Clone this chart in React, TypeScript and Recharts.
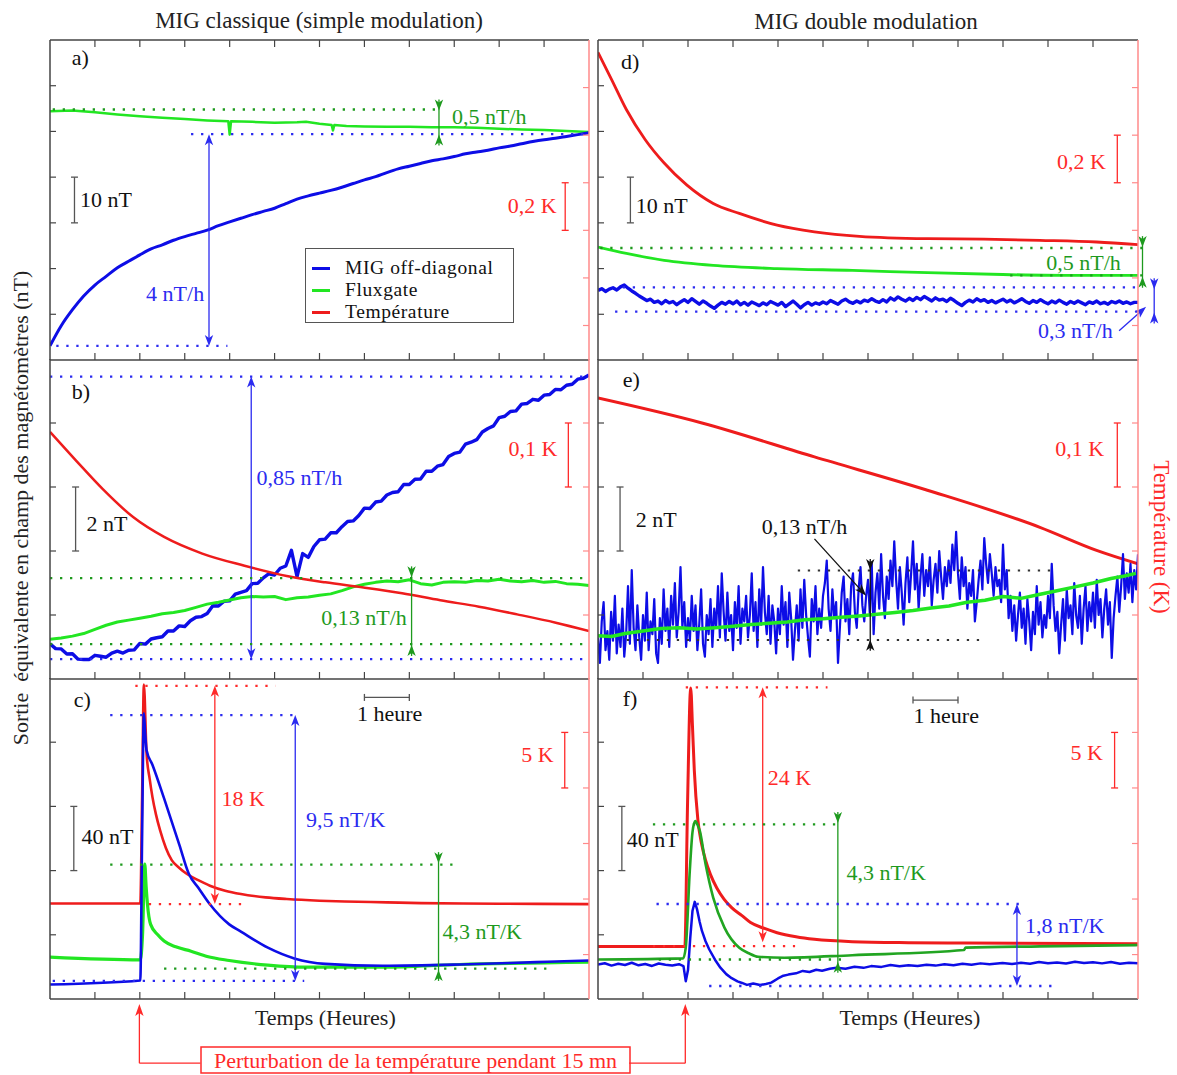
import React from 'react';
import { LineChart, Line, XAxis, YAxis, ReferenceLine, ReferenceDot, Legend } from 'recharts';

const SERIF = '"Liberation Serif", "Times New Roman", "DejaVu Serif", serif';
const BLUE = '#0d0de6';
const LIME = '#22e622';
const RED = '#ee1c1c';
const DKGREEN = '#22a522';
const ABLUE = '#2b2bf0';
const AGREEN = '#1e9a1e';
const ARED = '#ff2a2a';
const GRAY = '#444';
const BARGRAY = '#555';
const PINK = '#ff8a8a';
const INK = '#111';

// ---------- categories / ticks ----------
const seriesNames = ['MIG off-diagonal', 'Fluxgate', 'Température'];
const seriesColors = [BLUE, LIME, RED];
const hourTicks = [1, 2, 3, 4, 5, 6, 7, 8, 9, 10, 11];

// ---------- panel a (MIG classique, dérive) ----------
const aBlueStep = 0.25;
const aBlueV = [3.1, 7.5, 11.0, 14.0, 16.4, 18.3, 20.2, 21.6, 23.0, 24.3, 25.2, 26.2, 27.0, 27.7, 28.4, 29.4, 30.2,
  31.0, 31.8, 32.5, 33.2, 34.2, 35.2, 35.9, 36.5, 37.1, 37.8, 38.6, 39.4, 40.1, 41.0, 41.8, 42.4, 43.0, 43.6,
  44.0, 44.5, 45.1, 45.5, 45.9, 46.4, 46.8, 47.3, 47.8, 48.2, 48.5, 48.9, 49.3, 49.7];
const aGreenH = [0, 0.5, 1, 1.5, 2, 2.5, 3, 3.5, 3.97, 4.0, 4.03, 4.5, 5, 5.5, 5.7, 6.0, 6.27, 6.3, 6.33, 6.6, 7, 7.5, 8, 8.5, 9, 9.5, 10, 10.5, 11, 11.5, 12];
const aGreenV = [54.4, 54.6, 54.2, 53.7, 53.3, 53.0, 52.7, 52.4, 52.2, 49.3, 52.2, 52.1, 51.9, 52.0, 52.1, 51.7, 51.4, 50.2, 51.4, 51.2, 51.1, 51.0, 51.0, 50.9, 50.9, 50.8, 50.6, 50.4, 50.3, 50.1, 49.9];

// ---------- panel b ----------
const bBlueStep = 0.125;
const bBlueV = [1.10, 0.95, 0.94, 0.78, 0.79, 0.62, 0.61, 0.61, 0.74, 0.71, 0.68, 0.81, 0.87, 0.81, 0.90, 0.91,
  1.11, 1.09, 1.25, 1.29, 1.32, 1.50, 1.50, 1.66, 1.64, 1.82, 1.93, 1.95, 2.05, 2.29, 2.28, 2.43,
  2.44, 2.65, 2.71, 2.76, 2.98, 2.99, 3.16, 3.29, 3.25, 3.46, 3.53, 4.02, 3.20, 3.92, 3.80, 4.14,
  4.35, 4.37, 4.57, 4.57, 4.76, 4.92, 4.94, 5.11, 5.34, 5.33, 5.53, 5.56, 5.75, 5.83, 5.85, 6.08,
  6.08, 6.24, 6.25, 6.49, 6.49, 6.65, 6.70, 6.95, 7.05, 7.09, 7.34, 7.40, 7.48, 7.72, 7.83, 7.91,
  8.17, 8.21, 8.36, 8.38, 8.59, 8.61, 8.74, 8.71, 8.87, 8.89, 9.05, 9.04, 9.18, 9.21, 9.37, 9.40, 9.50];
const bGreenStep = 0.25;
const bGreenV = [1.24, 1.28, 1.34, 1.42, 1.55, 1.68, 1.78, 1.84, 1.90, 1.96, 2.04, 2.08, 2.14, 2.24, 2.34, 2.40,
  2.47, 2.54, 2.58, 2.56, 2.58, 2.48, 2.54, 2.56, 2.62, 2.66, 2.76, 2.88, 2.96, 3.02, 3.06, 3.04,
  3.10, 2.98, 2.94, 3.02, 3.04, 3.02, 3.08, 3.06, 3.12, 3.06, 3.04, 3.08, 3.02, 3.05, 2.98, 2.96, 2.92];
const bRedH = [0, 0.57, 1.17, 1.85, 2.54, 3.39, 4.33, 5.27, 6.13, 6.98, 7.84, 8.69, 9.55, 10.4, 11.26, 12];
const bRedT = [0.386, 0.342, 0.297, 0.253, 0.222, 0.196, 0.177, 0.161, 0.151, 0.143, 0.134, 0.123, 0.113, 0.101, 0.088, 0.075];

// ---------- panel c ----------
const cRedH = [0, 2.01, 2.05, 2.09, 2.15, 2.22, 2.28, 2.36, 2.45, 2.58, 2.71, 2.88, 3.05, 3.3, 3.56, 3.9, 4.25, 4.8, 5.27, 6.0, 6.56, 7.5, 8.26, 10, 12];
const cRedT = [9.6, 9.6, 19.0, 29.3, 23.1, 20.8, 19.2, 17.6, 16.2, 14.6, 13.5, 12.8, 12.25, 11.7, 11.2, 10.75, 10.45, 10.15, 10.0, 9.85, 9.78, 9.7, 9.63, 9.58, 9.54];
const cBlueH = [0, 2.01, 2.05, 2.09, 2.12, 2.15, 2.28, 2.54, 2.88, 3.09, 3.31, 3.56, 3.99, 4.25, 4.85, 5.44, 6.13, 7.41, 9.12, 10.83, 12];
const cBlueV = [9.0, 11.5, 100, 178, 165, 155, 146, 125, 96, 78, 69, 59, 46.5, 42, 32, 25.3, 21.9, 20.7, 21.5, 23.0, 24.0];
const cGreenH = [0, 2.01, 2.06, 2.11, 2.14, 2.17, 2.24, 2.4, 2.54, 2.8, 3.14, 3.5, 3.99, 4.85, 5.7, 7.41, 9.12, 12];
const cGreenV = [26.1, 24.4, 40, 84, 70, 59, 46.5, 40, 36.1, 32.5, 29.8, 26.5, 24.0, 21.1, 19.8, 19.8, 21.5, 23.0];

// ---------- panel d (double modulation, dérive) ----------
const dRedH = [0, 0.3, 0.63, 1.05, 1.47, 1.97, 2.56, 3.14, 3.98, 4.81, 5.81, 7.32, 8.57, 9.82, 11.08, 12];
const dRedT = [1.348, 1.235, 1.108, 0.981, 0.883, 0.791, 0.713, 0.671, 0.622, 0.594, 0.575, 0.565, 0.563, 0.558, 0.551, 0.540];
const dGreenH = [0, 0.63, 1.47, 2.56, 3.98, 5.65, 7.32, 8.99, 10.66, 12];
const dGreenV = [24.7, 23.3, 21.8, 20.7, 20.0, 19.6, 19.1, 18.7, 18.5, 18.5];
const dBlueStep = 1 / 12;
const dBlueV = [
  15.2, 15.6, 15.0, 15.5, 15.8, 15.3, 16.0, 16.4, 15.7, 15.1, 14.6, 14.0,
  13.5, 13.0, 13.3, 12.6, 12.9, 12.3, 13.0, 12.5, 12.8, 12.1, 12.7, 13.2,
  12.6, 13.4, 12.8, 12.2, 12.9, 12.4, 11.8, 11.3, 12.0, 12.6, 12.2, 12.8,
  12.3, 12.9, 12.1, 12.6, 12.0, 12.7, 12.3, 11.9, 12.5, 12.1, 12.8, 12.4,
  12.0, 12.6, 11.7, 12.3, 12.9, 12.2, 11.4, 12.1, 12.6, 12.0, 12.5, 12.2,
  12.7, 12.3, 13.0, 12.6, 12.2, 12.9, 13.3, 12.7, 12.4, 12.9, 12.5, 13.1,
  12.8, 13.4, 12.9, 12.6, 13.2, 12.7, 13.6, 13.1, 13.8, 13.3, 12.9, 13.5,
  13.0, 13.7, 13.2, 13.9, 13.4, 12.9, 13.6, 13.1, 13.3, 12.8, 13.5, 13.0,
  12.4, 11.9, 12.6, 13.1, 12.7, 13.4, 12.9, 13.2, 12.6, 13.0, 12.5, 12.9,
  13.3, 12.7, 13.1, 12.5, 12.9, 13.4, 12.8, 12.4, 13.0, 12.6, 13.2, 12.7,
  12.3, 12.9, 12.5, 13.1, 12.6, 12.2, 12.8, 12.4, 12.9, 12.5, 12.1, 12.7,
  12.4, 12.9, 12.3, 12.6, 12.2, 12.8, 12.5, 12.9, 12.4, 12.7, 12.3, 12.6,
  12.6];

// ---------- panel e ----------
const eRedH = [0, 2.31, 4.81, 7.32, 9.82, 11.08, 12];
const eRedT = [0.439, 0.400, 0.347, 0.295, 0.237, 0.201, 0.180];
const eGreenH = [0, 0.3, 0.6, 1.0, 1.4, 1.8, 2.2, 2.6, 3.0, 3.4, 3.8, 4.2, 4.6, 5.0, 5.4, 5.8, 6.2, 6.6, 7.0, 7.4, 7.8, 8.2, 8.6, 9.0, 9.4, 9.8, 10.2, 10.6, 11.0, 11.4, 11.7, 11.95];
const eGreenV = [1.35, 1.33, 1.42, 1.50, 1.58, 1.60, 1.56, 1.60, 1.65, 1.70, 1.74, 1.78, 1.85, 1.88, 1.93, 1.97, 2.02, 2.08, 2.14, 2.22, 2.28, 2.40, 2.46, 2.58, 2.52, 2.64, 2.76, 2.88, 3.00, 3.14, 3.22, 3.30];
const eBlueStep = 1 / 24;
const eBlueV = [
  1.3, 0.5, 1.8, 2.4, 0.9, 1.5, 0.6, 2.1, 1.2, 2.6, 0.8, 1.7, 1.0, 2.2, 0.7, 1.4, 2.9, 1.1, 3.4, 1.6, 0.9, 2.3, 1.3, 0.6,
  2.0, 1.2, 2.7, 0.9, 1.8, 1.4, 2.5, 0.8, 0.5, 1.9, 1.1, 2.8, 1.5, 2.2, 1.0, 2.6, 1.7, 3.0, 1.3, 2.1, 3.5, 1.6, 2.4, 1.0,
  1.9, 1.2, 2.6, 1.5, 2.3, 0.9, 1.7, 2.8, 1.1, 0.7, 2.0, 1.4, 2.5, 1.0, 2.2, 1.6, 2.9, 1.3, 3.3, 2.1, 1.2, 2.7, 1.5, 2.0,
  0.9, 2.4, 1.6, 2.9, 1.1, 2.2, 1.8, 2.6, 1.3, 2.0, 3.3, 1.5, 2.4, 1.0, 2.8, 1.7, 3.5, 2.1, 1.4, 2.6, 1.1, 2.3, 1.8, 0.8,
  2.2, 1.4, 2.9, 1.7, 2.4, 1.0, 2.7, 1.9, 0.6, 1.5, 2.3, 1.2, 2.8, 1.6, 3.1, 2.0, 1.3, 0.7, 2.5, 1.8, 2.9, 1.4, 2.2, 1.6,
  2.6, 3.0, 3.7, 2.2, 1.5, 2.8, 1.9, 2.4, 0.5, 1.6, 2.7, 3.2, 1.8, 2.5, 1.4, 2.9, 3.3, 2.1, 1.6, 2.8, 3.5, 2.3, 1.8, 2.6,
  3.1, 2.0, 3.6, 1.4, 2.7, 3.3, 2.2, 3.9, 2.6, 1.9, 3.2, 2.5, 3.7, 2.9, 4.3, 3.1, 2.2, 3.5, 2.7, 1.7, 3.0, 3.8, 2.4, 3.3,
  4.3, 2.8, 3.6, 2.2, 3.2, 3.9, 2.6, 3.4, 2.9, 3.8, 2.3, 3.1, 3.6, 2.7, 4.0, 3.2, 2.5, 3.5, 2.9, 3.7, 3.0, 4.2, 3.4, 4.6,
  3.3, 2.5, 3.8, 2.9, 3.5, 2.2, 3.0, 2.6, 3.4, 1.8, 2.4, 3.1, 3.7, 2.8, 4.4, 3.6, 3.0, 3.9, 3.3, 2.6, 3.5, 2.9, 3.1, 2.4,
  4.2, 2.8, 3.4, 1.9, 2.6, 1.5, 2.3, 1.2, 2.0, 2.7, 1.6, 2.2, 1.1, 2.5, 1.8, 0.9, 2.1, 1.4, 2.9, 1.7, 2.4, 1.3, 2.0, 1.6,
  2.6, 1.9, 3.6, 2.3, 1.5, 2.1, 0.8, 1.7, 2.5, 1.2, 2.8, 1.9, 2.3, 1.4, 3.0, 2.0, 1.6, 2.6, 1.1, 2.2, 2.9, 1.5, 2.4, 1.8,
  2.7, 1.6, 3.1, 2.0, 2.5, 1.3, 2.2, 2.8, 1.7, 2.4, 0.66, 1.9, 2.6, 3.2, 2.1, 2.9, 3.9, 2.5, 3.3, 2.7, 3.6, 2.4, 3.4, 2.8,
  3.9];

// ---------- panel f ----------
const fRedH = [0, 1.93, 1.99, 2.06, 2.1, 2.14, 2.22, 2.3, 2.39, 2.5, 2.64, 2.8, 2.97, 3.2, 3.39, 3.7, 3.98, 4.4, 4.81, 5.65, 6.9, 8.15, 12];
const fRedT = [5.72, 5.72, 18.6, 29.0, 25.5, 21.6, 17.1, 15.0, 13.5, 12.2, 11.0, 10.0, 9.23, 8.5, 7.88, 7.35, 6.97, 6.6, 6.37, 6.16, 6.07, 6.04, 5.98];
const fGreenH = [0, 1.89, 1.95, 2.04, 2.1, 2.16, 2.22, 2.26, 2.39, 2.56, 2.81, 3.14, 3.35, 3.56, 4.14, 5.65, 8.13, 8.17, 9.82, 12];
const fGreenV = [24.6, 25.3, 32, 80, 104, 110.8, 108, 105, 84.1, 63.2, 44.5, 31.9, 28.5, 26.3, 25.7, 27.3, 30.5, 32.0, 32.8, 33.6];
const fBlueH = [0, 0.15, 0.3, 0.45, 0.6, 0.75, 0.9, 1.05, 1.2, 1.35, 1.5, 1.65, 1.8, 1.9, 1.95, 2.0, 2.05, 2.1, 2.15, 2.2,
  2.26, 2.31, 2.39, 2.47, 2.6, 2.72, 2.85, 2.97, 3.1, 3.2, 3.31, 3.45, 3.6, 3.73, 3.85, 4.0, 4.12, 4.23, 4.4, 4.55,
  4.7, 4.85, 4.98, 5.15, 5.3, 5.5, 5.7, 5.9, 6.07, 6.3, 6.5, 6.7, 6.9, 7.1, 7.3, 7.5, 7.7, 7.9, 8.1, 8.3,
  8.5, 8.7, 8.99, 9.2, 9.4, 9.6, 9.8, 10.0, 10.2, 10.4, 10.6, 10.8, 11.0, 11.2, 11.4, 11.6, 11.8, 12];
const fBlueV = [21.5, 22.3, 20.8, 22.0, 21.2, 22.6, 21.0, 21.8, 20.6, 22.1, 21.4, 20.9, 21.7, 20.5, 11.1, 18, 38, 55, 60.5, 56,
  48, 42.4, 36, 31, 24.5, 19.5, 15.5, 13, 11, 10.0, 8.8, 9.6, 8.7, 9.4, 10.2, 12.8, 14.5, 15.2, 16.0, 17.5,
  16.8, 18.2, 17.6, 18.8, 19.5, 18.9, 20.1, 19.4, 20.5, 20.0, 21.2, 20.4, 21.0, 20.6, 21.4, 20.8, 21.6, 21.0, 22.0, 21.3,
  22.2, 21.6, 22.4, 21.8, 22.6, 21.9, 23.0, 22.3, 22.8, 22.1, 23.2, 22.4, 22.9, 22.2, 23.1, 22.0, 22.6, 22.3];

// ---------- helpers ----------
const fromStep = (step: number, v: number[]) => v.map((y, i) => ({ h: i * step, v: y }));
const fromPairs = (h: number[], v: number[]) => h.map((x, i) => ({ h: x, v: v[i] }));
const EmptyTick = () => <g />;

function headPts(tx: number, ty: number, ux: number, uy: number, L = 11, W = 4.2) {
  const bx = tx - ux * L, by = ty - uy * L;
  const nx = -uy, ny = ux;
  const mx = tx - ux * (L - 3), my = ty - uy * (L - 3);
  return `${tx},${ty} ${bx + nx * W},${by + ny * W} ${mx},${my} ${bx - nx * W},${by - ny * W}`;
}

function renderAnn(a: any, i: number) {
  const ax = a.ax || 'n';
  const c = a.c || INK;
  if (a.k === 'text') {
    return (
      <ReferenceDot key={i} xAxisId="b" yAxisId={ax} x={a.x} y={a.y} r={0} ifOverflow="visible"
        shape={(p: any) => (
          <text x={p.cx} y={p.cy} fill={c} fontFamily={SERIF} fontSize={a.size || 22}
            textAnchor={a.anchor || 'start'} dominantBaseline="central">{a.s}</text>
        )} />
    );
  }
  let seg: any;
  let shape: any;
  if (a.k === 'dots' || a.k === 'hbar') {
    seg = [{ x: a.x1, y: a.y }, { x: a.x2, y: a.y }];
  } else if (a.k === 'leader' || a.k === 'line') {
    seg = [{ x: a.x1, y: a.y1 }, { x: a.x2, y: a.y2 }];
  } else {
    seg = [{ x: a.x, y: a.y1 }, { x: a.x, y: a.y2 }];
  }
  if (a.k === 'dots') {
    shape = (p: any) => (
      <line x1={p.x1} y1={p.y1} x2={p.x2} y2={p.y2} stroke={c} strokeWidth={a.w || 2.3} strokeDasharray="2.3 7.7" />
    );
  } else if (a.k === 'hbar') {
    shape = (p: any) => (
      <g stroke={c} strokeWidth={1.3}>
        <line x1={p.x1} y1={p.y1} x2={p.x2} y2={p.y2} />
        <line x1={p.x1} y1={p.y1 - 3.5} x2={p.x1} y2={p.y1 + 3.5} />
        <line x1={p.x2} y1={p.y2 - 3.5} x2={p.x2} y2={p.y2 + 3.5} />
      </g>
    );
  } else if (a.k === 'bar') {
    shape = (p: any) => (
      <g stroke={c} strokeWidth={1.3}>
        <line x1={p.x1} y1={p.y1} x2={p.x2} y2={p.y2} />
        <line x1={p.x1 - 3.5} y1={p.y1} x2={p.x1 + 3.5} y2={p.y1} />
        <line x1={p.x2 - 3.5} y1={p.y2} x2={p.x2 + 3.5} y2={p.y2} />
      </g>
    );
  } else if (a.k === 'arrow') {
    shape = (p: any) => {
      const x = p.x1;
      const top = Math.min(p.y1, p.y2), bot = Math.max(p.y1, p.y2);
      return (
        <g>
          <line x1={x} y1={top + 6} x2={x} y2={bot - 6} stroke={c} strokeWidth={1.3} />
          <polygon points={headPts(x, top, 0, -1)} fill={c} />
          <polygon points={headPts(x, bot, 0, 1)} fill={c} />
        </g>
      );
    };
  } else if (a.k === 'inward') {
    shape = (p: any) => {
      const x = p.x1;
      const top = Math.min(p.y1, p.y2), bot = Math.max(p.y1, p.y2);
      return (
        <g>
          <line x1={x} y1={top} x2={x} y2={bot} stroke={c} strokeWidth={1.3} />
          <polygon points={headPts(x, top + 11, 0, 1)} fill={c} />
          <polygon points={headPts(x, bot - 11, 0, -1)} fill={c} />
        </g>
      );
    };
  } else if (a.k === 'leader') {
    shape = (p: any) => {
      const dx = p.x2 - p.x1, dy = p.y2 - p.y1;
      const len = Math.hypot(dx, dy) || 1;
      const ux = dx / len, uy = dy / len;
      return (
        <g>
          <line x1={p.x1} y1={p.y1} x2={p.x2 - ux * 6} y2={p.y2 - uy * 6} stroke={c} strokeWidth={1.3} />
          <polygon points={headPts(p.x2, p.y2, ux, uy, 12, 4.2)} fill={c} />
        </g>
      );
    };
  } else {
    shape = (p: any) => <line x1={p.x1} y1={p.y1} x2={p.x2} y2={p.y2} stroke={c} strokeWidth={1.3} />;
  }
  return <ReferenceLine key={i} xAxisId="b" yAxisId={ax} segment={seg} ifOverflow="visible" shape={shape} />;
}

function LegendBox() {
  return (
    <div style={{ width: 209, height: 75, boxSizing: 'border-box', border: '1.5px solid #555', background: '#fff', position: 'relative', fontFamily: SERIF, fontSize: 19.5, color: INK }}>
      {seriesNames.map((n, i) => (
        <div key={n} style={{ position: 'absolute', left: 0, top: 7 + i * 22, height: 24, display: 'flex', alignItems: 'center', whiteSpace: 'nowrap' }}>
          <span style={{ display: 'inline-block', width: 18, height: 3, background: seriesColors[i], marginLeft: 6, marginRight: 15 }} />
          <span style={{ lineHeight: '24px', letterSpacing: '0.6px' }}>{n}</span>
        </div>
      ))}
    </div>
  );
}

function Panel(props: any) {
  const { left, top, width, height, nDomain, nTicks, tDomain, tTicks, lines, anns, topAxis, legend } = props;
  const axLine = { stroke: GRAY, strokeWidth: 1.5 };
  const tkLine = { stroke: GRAY, strokeWidth: 1.2 };
  return (
    <div style={{ position: 'absolute', left: left - 1, top: top - 1, width: width + 2, height: height + 2 }}>
      <LineChart width={width + 2} height={height + 2} margin={{ top: topAxis ? 0 : 1, right: 0, bottom: 0, left: 0 }}>
        <XAxis xAxisId="b" type="number" dataKey="h" domain={[0, 12]} ticks={hourTicks} allowDataOverflow mirror
          tick={EmptyTick} tickSize={7} height={1} axisLine={axLine} tickLine={tkLine} />
        {topAxis && (
          <XAxis xAxisId="t" orientation="top" type="number" dataKey="h" domain={[0, 12]} ticks={hourTicks} allowDataOverflow mirror
            tick={EmptyTick} tickSize={7} height={1} axisLine={axLine} tickLine={tkLine} />
        )}
        <YAxis yAxisId="n" type="number" dataKey="v" domain={nDomain} ticks={nTicks} allowDataOverflow mirror tick={EmptyTick}
          tickSize={6} width={1} axisLine={axLine} tickLine={tkLine} />
        <YAxis yAxisId="t" orientation="right" type="number" dataKey="v" domain={tDomain} ticks={tTicks} allowDataOverflow mirror tick={EmptyTick}
          tickSize={6} width={1} axisLine={{ stroke: PINK, strokeWidth: 1.5 }} tickLine={{ stroke: PINK, strokeWidth: 1.2 }} />
        {lines.map((s: any, i: number) => (
          <Line key={'l' + i} xAxisId="b" yAxisId={s.ax} data={s.data} dataKey="v" type={s.type || 'linear'}
            stroke={s.c} strokeWidth={s.w} dot={false} activeDot={false} isAnimationActive={false} strokeLinejoin="round" />
        ))}
        {anns.map(renderAnn)}
        {legend && (
          <Legend layout="vertical" align="center" verticalAlign="middle"
            wrapperStyle={{ left: 255, top: 208, width: 209, height: 75 }} content={() => <LegendBox />} />
        )}
      </LineChart>
    </div>
  );
}

const LX = 51, LW = 537, RX = 599, RW = 538;
const ROW = [{ top: 41, h: 318 }, { top: 359, h: 319 }, { top: 678, h: 320 }];
const domA = { nDomain: [0, 70], nTicks: [10, 20, 30, 40, 50, 60], tDomain: [0.055, 1.4], tTicks: [0.2, 0.4, 0.6, 0.8, 1.0, 1.2] };
const domB = { nDomain: [0, 10], nTicks: [2, 4, 6, 8], tDomain: [0, 0.5], tTicks: [0.1, 0.2, 0.3, 0.4] };
const domC = { nDomain: [0, 200], nTicks: [40, 80, 120, 160], tDomain: [1, 29.9], tTicks: [5, 10, 15, 20, 25] };

const annA = [
  { k: 'text', x: 0.485, y: 66.1, s: 'a)' },
  { k: 'bar', x: 0.545, y1: 40, y2: 30, c: BARGRAY },
  { k: 'text', x: 0.67, y: 35.2, s: '10 nT' },
  { k: 'bar', x: 11.47, y1: 0.8, y2: 0.6, c: ARED, ax: 't' },
  { k: 'text', x: 10.19, y: 33.7, s: '0,2 K', c: ARED },
  { k: 'dots', y: 54.8, x1: 0.06, x2: 8.61, c: AGREEN },
  { k: 'dots', y: 49.4, x1: 3.14, x2: 12, c: ABLUE },
  { k: 'dots', y: 3.08, x1: 0.14, x2: 3.95, c: ABLUE },
  { k: 'arrow', x: 3.54, y1: 49.4, y2: 3.08, c: ABLUE },
  { k: 'text', x: 2.14, y: 14.5, s: '4 nT/h', c: ABLUE },
  { k: 'inward', x: 8.66, y1: 57.0, y2: 46.9, c: AGREEN },
  { k: 'text', x: 8.95, y: 53.3, s: '0,5 nT/h', c: AGREEN },
];
const annB = [
  { k: 'text', x: 0.485, y: 8.98, s: 'b)' },
  { k: 'bar', x: 0.57, y1: 6, y2: 4, c: BARGRAY },
  { k: 'text', x: 0.81, y: 4.86, s: '2 nT' },
  { k: 'bar', x: 11.54, y1: 0.4, y2: 0.3, c: ARED, ax: 't' },
  { k: 'text', x: 10.21, y: 7.21, s: '0,1 K', c: ARED },
  { k: 'dots', y: 9.45, x1: 0, x2: 12, c: ABLUE },
  { k: 'dots', y: 0.62, x1: 0, x2: 12, c: ABLUE },
  { k: 'arrow', x: 4.48, y1: 9.45, y2: 0.62, c: ABLUE },
  { k: 'text', x: 4.6, y: 6.31, s: '0,85 nT/h', c: ABLUE },
  { k: 'dots', y: 3.15, x1: 0, x2: 12, c: AGREEN },
  { k: 'dots', y: 1.09, x1: 0, x2: 12, c: AGREEN },
  { k: 'inward', x: 8.05, y1: 3.52, y2: 0.72, c: AGREEN },
  { k: 'text', x: 6.04, y: 1.92, s: '0,13 nT/h', c: AGREEN },
];
const annC = [
  { k: 'text', x: 0.53, y: 186.9, s: 'c)' },
  { k: 'bar', x: 0.53, y1: 120, y2: 80, c: BARGRAY },
  { k: 'text', x: 0.70, y: 101.3, s: '40 nT' },
  { k: 'bar', x: 11.46, y1: 25, y2: 20, c: ARED, ax: 't' },
  { k: 'text', x: 10.49, y: 152.2, s: '5 K', c: ARED },
  { k: 'dots', y: 29.2, x1: 1.9, x2: 5.02, c: ARED, ax: 't' },
  { k: 'dots', y: 9.55, x1: 2.2, x2: 4.38, c: ARED, ax: 't' },
  { k: 'arrow', x: 3.67, y1: 29.2, y2: 9.55, c: ARED, ax: 't' },
  { k: 'text', x: 3.82, y: 125, s: '18 K', c: ARED },
  { k: 'dots', y: 176.9, x1: 1.34, x2: 5.45, c: ABLUE },
  { k: 'dots', y: 11.25, x1: 0.06, x2: 5.66, c: ABLUE },
  { k: 'arrow', x: 5.46, y1: 176.9, y2: 11.25, c: ABLUE },
  { k: 'text', x: 5.7, y: 111.9, s: '9,5 nT/K', c: ABLUE },
  { k: 'dots', y: 83.75, x1: 1.34, x2: 9.12, c: AGREEN },
  { k: 'dots', y: 18.9, x1: 2.54, x2: 11.09, c: AGREEN },
  { k: 'inward', x: 8.65, y1: 91.5, y2: 11.25, c: AGREEN },
  { k: 'text', x: 8.74, y: 41.9, s: '4,3 nT/K', c: AGREEN },
  { k: 'hbar', y: 187.9, x1: 7, x2: 8, c: BARGRAY },
  { k: 'text', x: 7.56, y: 178, s: '1 heure', anchor: 'middle' },
  { k: 'text', x: 6.13, y: -11.25, s: 'Temps (Heures)', anchor: 'middle', c: '#222' },
  { k: 'leader', x1: 1.99, y1: -40, x2: 1.99, y2: -3.1, c: ARED },
  { k: 'line', x1: 3.35, y1: -40, x2: 1.99, y2: -40, c: ARED },
];
const annD = [
  { k: 'text', x: 0.51, y: 65.3, s: 'd)' },
  { k: 'bar', x: 0.72, y1: 40, y2: 30, c: BARGRAY },
  { k: 'text', x: 0.84, y: 33.9, s: '10 nT' },
  { k: 'bar', x: 11.54, y1: 1.0, y2: 0.8, c: ARED, ax: 't' },
  { k: 'text', x: 10.2, y: 43.4, s: '0,2 K', c: ARED },
  { k: 'dots', y: 24.5, x1: 0.05, x2: 12.25, c: AGREEN },
  { k: 'dots', y: 18.5, x1: 9.16, x2: 12.25, c: AGREEN },
  { k: 'inward', x: 12.1, y1: 27.1, y2: 15.8, c: AGREEN },
  { k: 'text', x: 9.96, y: 21.4, s: '0,5 nT/h', c: AGREEN },
  { k: 'dots', y: 15.9, x1: 0.55, x2: 12, c: ABLUE },
  { k: 'dots', y: 10.6, x1: 0.38, x2: 12, c: ABLUE },
  { k: 'inward', x: 12.36, y1: 17.9, y2: 8.0, c: ABLUE },
  { k: 'text', x: 9.78, y: 6.38, s: '0,3 nT/h', c: ABLUE },
  { k: 'leader', x1: 11.58, y1: 6.38, x2: 12.18, y2: 11.66, c: ABLUE },
];
const annE = [
  { k: 'text', x: 0.55, y: 9.37, s: 'e)' },
  { k: 'bar', x: 0.49, y1: 6, y2: 4, c: BARGRAY },
  { k: 'text', x: 0.84, y: 5.0, s: '2 nT' },
  { k: 'bar', x: 11.54, y1: 0.4, y2: 0.3, c: ARED, ax: 't' },
  { k: 'text', x: 10.16, y: 7.2, s: '0,1 K', c: ARED },
  { k: 'dots', y: 3.39, x1: 4.44, x2: 10.12, c: '#333', w: 2 },
  { k: 'dots', y: 1.22, x1: 0.64, x2: 8.53, c: '#333', w: 2 },
  { k: 'inward', x: 6.05, y1: 3.75, y2: 0.88, c: INK },
  { k: 'text', x: 3.64, y: 4.76, s: '0,13 nT/h', c: INK },
  { k: 'leader', x1: 4.81, y1: 4.38, x2: 5.96, y2: 2.60, c: INK },
];
const annF = [
  { k: 'text', x: 0.55, y: 187.5, s: 'f)' },
  { k: 'bar', x: 0.53, y1: 120, y2: 80, c: BARGRAY },
  { k: 'text', x: 0.64, y: 99.4, s: '40 nT' },
  { k: 'bar', x: 11.48, y1: 25, y2: 20, c: ARED, ax: 't' },
  { k: 'text', x: 10.5, y: 153.75, s: '5 K', c: ARED },
  { k: 'dots', y: 29.06, x1: 1.95, x2: 5.1, c: ARED, ax: 't' },
  { k: 'dots', y: 5.76, x1: 1.22, x2: 4.38, c: ARED, ax: 't' },
  { k: 'arrow', x: 3.66, y1: 29.06, y2: 6.1, c: ARED, ax: 't' },
  { k: 'text', x: 3.77, y: 138, s: '24 K', c: ARED },
  { k: 'dots', y: 108.75, x1: 1.22, x2: 5.31, c: AGREEN },
  { k: 'dots', y: 24.6, x1: 1.35, x2: 5.4, c: AGREEN },
  { k: 'inward', x: 5.33, y1: 116.5, y2: 16.4, c: AGREEN },
  { k: 'text', x: 5.52, y: 78.9, s: '4,3 nT/K', c: AGREEN },
  { k: 'dots', y: 59.2, x1: 1.3, x2: 9.49, c: ABLUE },
  { k: 'dots', y: 8.1, x1: 2.47, x2: 10.24, c: ABLUE },
  { k: 'arrow', x: 9.31, y1: 59.2, y2: 8.1, c: ABLUE },
  { k: 'text', x: 9.49, y: 45.6, s: '1,8 nT/K', c: ABLUE },
  { k: 'hbar', y: 186.25, x1: 7, x2: 8, c: BARGRAY },
  { k: 'text', x: 7.74, y: 176.9, s: '1 heure', anchor: 'middle' },
  { k: 'text', x: 6.93, y: -11.25, s: 'Temps (Heures)', anchor: 'middle', c: '#222' },
  { k: 'leader', x1: 1.94, y1: -40, x2: 1.94, y2: -3.1, c: ARED },
  { k: 'line', x1: 0.69, y1: -40, x2: 1.94, y2: -40, c: ARED },
];

export default function App() {
  return (
    <div style={{ position: 'absolute', left: 0, top: 0, width: 1177, height: 1075, background: '#fff', fontFamily: SERIF }}>
      <style>{'svg.recharts-surface{overflow:visible !important}'}</style>
      <svg width={1177} height={1075} style={{ position: 'absolute', left: 0, top: 0 }}>
        <g fontFamily={SERIF} fill="#222">
          <text x={319} y={20} textAnchor="middle" dominantBaseline="central" fontSize={23}>MIG classique (simple modulation)</text>
          <text x={866} y={21} textAnchor="middle" dominantBaseline="central" fontSize={23}>MIG double modulation</text>
          <text transform="translate(20,508) rotate(-90)" textAnchor="middle" dominantBaseline="central" fontSize={22} style={{ whiteSpace: 'pre' }}>
            {'Sortie  équivalente en champ des magnétomètres (nT)'}
          </text>
          <text transform="translate(1161,537) rotate(90)" textAnchor="middle" dominantBaseline="central" fontSize={23} fill={ARED}>Température (K)</text>
        </g>
        <rect x={201} y={1047} width={429} height={26} fill="#fff" stroke={ARED} strokeWidth={1.5} />
        <text x={415.5} y={1060} textAnchor="middle" dominantBaseline="central" fontSize={22} fontFamily={SERIF} fill={ARED}>
          Perturbation de la température pendant 15 mn
        </text>
      </svg>

      <Panel left={LX} top={ROW[0].top} width={LW} height={ROW[0].h} {...domA} topAxis legend anns={annA}
        lines={[
          { data: fromPairs(aGreenH, aGreenV), ax: 'n', c: LIME, w: 2.5 },
          { data: fromStep(aBlueStep, aBlueV), ax: 'n', c: BLUE, w: 3, type: 'monotone' },
        ]} />
      <Panel left={LX} top={ROW[1].top} width={LW} height={ROW[1].h} {...domB} anns={annB}
        lines={[
          { data: fromStep(bBlueStep, bBlueV), ax: 'n', c: BLUE, w: 3.4 },
          { data: fromStep(bGreenStep, bGreenV), ax: 'n', c: LIME, w: 3 },
          { data: fromPairs(bRedH, bRedT), ax: 't', c: RED, w: 2.5, type: 'monotone' },
        ]} />
      <Panel left={LX} top={ROW[2].top} width={LW} height={ROW[2].h} {...domC} anns={annC}
        lines={[
          { data: fromPairs(cRedH, cRedT), ax: 't', c: RED, w: 2.6, type: 'monotone' },
          { data: fromPairs(cGreenH, cGreenV), ax: 'n', c: LIME, w: 3.2, type: 'monotone' },
          { data: fromPairs(cBlueH, cBlueV), ax: 'n', c: BLUE, w: 2.6, type: 'monotone' },
        ]} />
      <Panel left={RX} top={ROW[0].top} width={RW} height={ROW[0].h} {...domA} topAxis anns={annD}
        lines={[
          { data: fromStep(dBlueStep, dBlueV), ax: 'n', c: BLUE, w: 3.4 },
          { data: fromPairs(dGreenH, dGreenV), ax: 'n', c: LIME, w: 2.8, type: 'monotone' },
          { data: fromPairs(dRedH, dRedT), ax: 't', c: RED, w: 2.8, type: 'monotone' },
        ]} />
      <Panel left={RX} top={ROW[1].top} width={RW} height={ROW[1].h} {...domB} anns={annE}
        lines={[
          { data: fromPairs(eRedH, eRedT), ax: 't', c: RED, w: 3, type: 'monotone' },
          { data: fromStep(eBlueStep, eBlueV), ax: 'n', c: BLUE, w: 2.2 },
          { data: fromPairs(eGreenH, eGreenV), ax: 'n', c: LIME, w: 3.5 },
        ]} />
      <Panel left={RX} top={ROW[2].top} width={RW} height={ROW[2].h} {...domC} anns={annF}
        lines={[
          { data: fromPairs(fRedH, fRedT), ax: 't', c: RED, w: 3, type: 'monotone' },
          { data: fromPairs(fGreenH, fGreenV), ax: 'n', c: DKGREEN, w: 2.6, type: 'monotone' },
          { data: fromPairs(fBlueH, fBlueV), ax: 'n', c: BLUE, w: 2.5 },
        ]} />
    </div>
  );
}
